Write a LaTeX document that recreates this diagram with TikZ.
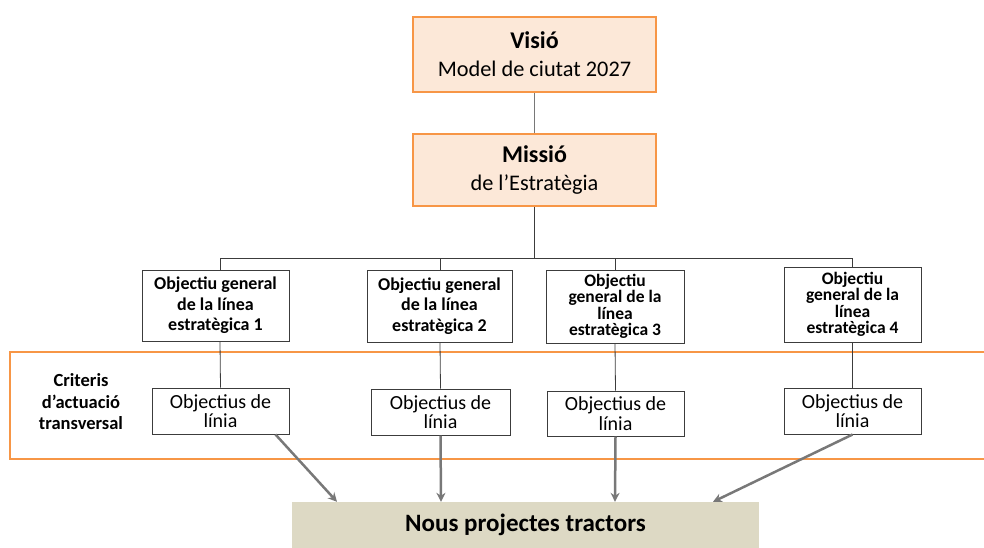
\documentclass[tikz,border=0pt]{standalone}
\usepackage{fontspec}
\setmainfont{Carlito}
\usetikzlibrary{arrows.meta}
\definecolor{orng}{RGB}{247,150,70}
\definecolor{orfill}{RGB}{252,232,216}
\definecolor{lgray}{RGB}{120,120,120}
\definecolor{trfill}{RGB}{221,217,196}
\definecolor{bord}{RGB}{60,60,60}
\begin{document}
\begin{tikzpicture}[x=1pt,y=-1pt,
  topbox/.style={draw=orng,fill=orfill,line width=2pt,minimum width=243pt,align=center,inner sep=0pt,font=\fontsize{22.3}{28}\selectfont},
  ogbox/.style={draw=bord,line width=1pt,align=center,inner sep=0pt,font=\bfseries\fontsize{18}{20.5}\selectfont},
  ogboxt/.style={ogbox,font=\bfseries\fontsize{17.5}{16.5}\selectfont},
  olbox/.style={draw=bord,line width=1pt,align=center,inner sep=0pt,font=\fontsize{20}{19.5}\selectfont},
  conn/.style={draw=bord,line width=0.8pt},
  arr/.style={draw=lgray,line width=2.5pt,-{Stealth[length=9pt,width=9pt]}}]
\useasboundingbox (0,0) rectangle (984,547);
% top boxes
\node[topbox,minimum height=75pt] (v) at (534.5,54.5) {{\bfseries\fontsize{24}{28}\selectfont Visió}\\Model de ciutat 2027};
\node[topbox,minimum height=72pt] (m) at (534.5,170) {{\bfseries\fontsize{24}{28}\selectfont Missió}\\de l’Estratègia};
\draw[draw=lgray,line width=0.9pt] (v) -- (m);
% orange band
\draw[orng,line width=2.5pt] (10,352) rectangle (1000,459);
\node[align=center,font=\bfseries\fontsize{18.5}{21.5}\selectfont] (crit) at (81,402) {Criteris\\d’actuació\\transversal};
% objectiu general boxes
\node[ogbox,minimum width=147pt,minimum height=71pt] (og1) at (215.5,305.5) {Objectiu general\\de la línea\\estratègica 1};
\node[ogbox,minimum width=145pt,minimum height=72pt] (og2) at (439.5,306) {Objectiu general\\de la línea\\estratègica 2};
\node[ogboxt,minimum width=138pt,minimum height=73pt] (og3) at (615,306.5) {Objectiu\\general de la\\línea\\estratègica 3};
\node[ogboxt,minimum width=137pt,minimum height=75pt] (og4) at (852.5,304.5) {Objectiu\\general de la\\línea\\estratègica 4};
% objectius de linia
\node[olbox,minimum width=137pt,minimum height=46pt] (ol1) at (220.5,411) {Objectius de\\línia};
\node[olbox,minimum width=139pt,minimum height=46pt] (ol2) at (440.5,412) {Objectius de\\línia};
\node[olbox,minimum width=137pt,minimum height=45pt] (ol3) at (615.5,413.5) {Objectius de\\línia};
\node[olbox,minimum width=137pt,minimum height=46pt] (ol4) at (852.5,411) {Objectius de\\línia};
% bus
\coordinate (bus) at (534.5,258);
\draw[conn] (m.south) -- (bus);
\draw[conn] (bus) -| ([xshift=4.5pt]og1.north);
\draw[conn] (bus) -| ([xshift=0.5pt]og2.north);
\draw[conn] (bus) -| (og3.north);
\draw[conn] (bus) -| (og4.north);
\draw[conn] ([xshift=4.5pt]og1.south) -- (ol1.north);
\draw[conn] ([xshift=0.5pt]og2.south) -- (ol2.north);
\draw[conn] (og3.south) -- (ol3.north);
\draw[conn] (og4.south) -- (ol4.north);
% tractors
\node[fill=trfill,minimum width=467pt,minimum height=46pt,inner sep=0pt,font=\bfseries\fontsize{25}{28}\selectfont] (tr) at (525.5,525) {\raisebox{-3pt}{Nous projectes tractors}};
\draw[arr] ([xshift=55pt]ol1.south) -- (tr.north -| 337,0);
\draw[arr] (ol2.south) -- (tr.north -| 441,0);
\draw[arr] (ol3.south) -- (tr.north -| 615,0);
\draw[arr] (ol4.south) -- (tr.north -| 713,0);
\end{tikzpicture}
\end{document}
